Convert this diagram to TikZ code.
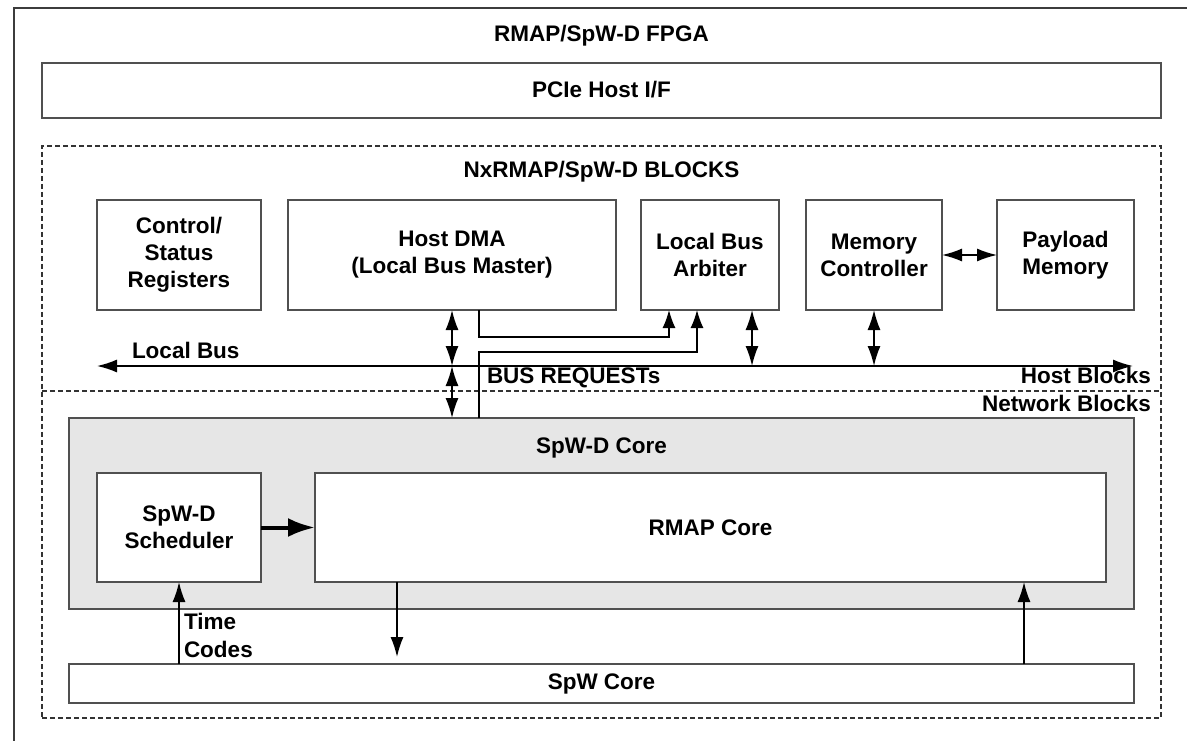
\documentclass[tikz,border=0pt]{standalone}
\usepackage{fontspec}
\setmainfont{Liberation Sans}
\usetikzlibrary{arrows.meta}

\definecolor{boxline}{HTML}{505050}
\definecolor{frameline}{HTML}{3C3C3C}
\definecolor{dashline}{HTML}{333333}
\definecolor{corefill}{HTML}{E6E6E6}

\newcommand\blockfont{\fontsize{22.5}{27}\selectfont\bfseries}

\tikzset{
  blk/.style={draw=boxline, line width=1.5pt, fill=white, inner sep=0pt,
              outer sep=0pt, align=center, font=\blockfont},
  lbl/.style={font=\blockfont, inner sep=0pt, outer sep=0pt},
  dashbox/.style={draw=dashline, line width=1.3pt, dash pattern=on 5pt off 3pt},
  dbl/.style={{Latex[length=20pt,width=13pt]}-{Latex[length=20pt,width=13pt]}, line width=1.6pt},
  one/.style={-{Latex[length=20pt,width=13pt]}, line width=1.6pt},
  busreq/.style={-{Latex[length=18pt,width=13pt]}, line width=1.5pt},
  heavy/.style={-{Latex[length=27pt,width=19pt]}, line width=4pt},
}

\begin{document}
\begin{tikzpicture}[x=1pt,y=-1pt]
\useasboundingbox (0,0) rectangle (1187,741);

% outer FPGA frame, running off the right and bottom edges
\begin{scope}
  \clip (0,0) rectangle (1187,741);
  \draw[frameline, line width=2.5pt] (14,8) rectangle (1230,790);
\end{scope}

\node[lbl, anchor=base] (fpga) at (601.5,42) {RMAP/SpW-D FPGA};

% PCIe host interface
\node[blk, minimum width=1119pt, minimum height=55pt] (pcie) at (601.5,90.5) {};
\node[lbl, anchor=base] (pcielbl) at (601.5,98) {PCIe Host I/F};

% NxRMAP/SpW-D block area
\node[dashbox, inner sep=0pt, outer sep=0pt, minimum width=1119pt, minimum height=572pt] (blocks) at (601.5,432) {};
\node[lbl, anchor=base] (blockslbl) at (601.5,178) {NxRMAP/SpW-D BLOCKS};

% host-side blocks
\node[blk, minimum width=164pt, minimum height=110pt] (ctrl) at (179,255) {Control/\\Status\\Registers};
\node[blk, minimum width=328pt, minimum height=110pt] (dma) at (452,255) {Host DMA\\(Local Bus Master)};
\node[blk, minimum width=138pt, minimum height=110pt] (arb) at (710,255) {Local Bus\\Arbiter};
\node[blk, minimum width=136pt, minimum height=110pt] (memc) at (874,255) {Memory\\Controller};
\node[blk, minimum width=137pt, minimum height=110pt] (pay) at (1065.5,255) {Payload\\Memory};

\draw[dbl] (memc.east) -- (pay.west);

% local bus
\coordinate (lbW) at (97,366);
\coordinate (lbE) at (1133,366);
\draw[dbl] (lbW) -- (lbE);
\node[lbl, anchor=base west] (lblbus) at (132,358) {Local Bus};

% host / network separator
\coordinate (sepW) at (42,391);
\coordinate (sepE) at (1161,391);
\draw[dashbox] (sepW) -- (sepE);
\node[lbl, anchor=base east] (hostlbl) at (1151,383) {Host Blocks};
\node[lbl, anchor=base east] (netlbl) at (1151,411) {Network Blocks};

% network-side blocks
\node[blk, fill=corefill, minimum width=1065pt, minimum height=191pt] (spwd) at (601.5,513.5) {};
\node[lbl, anchor=base] (spwdlbl) at (601.5,453) {SpW-D Core};
\node[blk, minimum width=164pt, minimum height=109pt] (sched) at (179,527.5) {SpW-D\\Scheduler};
\node[blk, minimum width=791pt, minimum height=109pt] (rmap) at (710.5,527.5) {RMAP Core};
\node[blk, minimum width=1065pt, minimum height=39pt] (spw) at (601.5,683.5) {SpW Core};

% bus connections
\coordinate (dmaBus) at (dma.south |- lbW);
\draw[dbl] (dma.south) -- (dmaBus);
\draw[dbl] (dmaBus) -- (spwd.north -| dma.south);
\coordinate (arbX) at (752,0);
\draw[dbl] (arb.south -| arbX) -- (lbW -| arbX);
\draw[dbl] (memc.south) -- (memc.south |- lbW);

% bus requests to the arbiter
\coordinate (rqX) at (479,0);
\coordinate (rq1) at (669,337);
\coordinate (rq2) at (697,352);
\draw[busreq] (dma.south -| rqX) -- (rqX |- rq1) -- (rq1) -- (arb.south -| rq1);
\draw[busreq] (spwd.north -| rqX) -- (rqX |- rq2) -- (rq2) -- (arb.south -| rq2);
\node[lbl, anchor=base west] (bqlbl) at (487,383) {BUS REQUESTs};

% core internals
\draw[heavy] (sched.east) -- (rmap.west);
\draw[one] (spw.north -| sched.south) -- (sched.south);
\node[lbl, anchor=base west] (tclbl1) at (184,629) {Time};
\node[lbl, anchor=base west] (tclbl2) at (184,657) {Codes};

\coordinate (dnX) at (397,0);
\coordinate (upX) at (1024,0);
\draw[one, shorten >=7pt] (rmap.south -| dnX) -- (spw.north -| dnX);
\draw[one] (spw.north -| upX) -- (rmap.south -| upX);
\end{tikzpicture}
\end{document}
